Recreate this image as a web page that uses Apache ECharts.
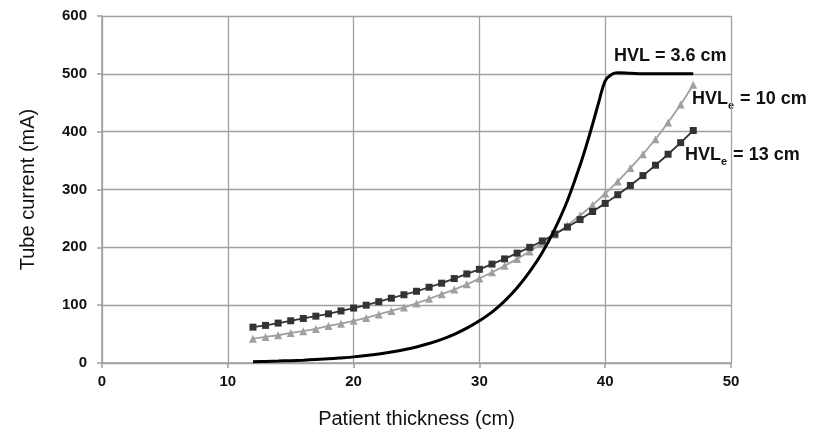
<!DOCTYPE html>
<html>
<head>
<meta charset="utf-8">
<script src="https://cdn.jsdelivr.net/npm/echarts@6/dist/echarts.min.js"></script>
<style>
  html, body { margin: 0; padding: 0; background: #fff; }
  #chart { width: 818px; height: 434px; }
</style>
</head>
<body>
<div id="chart"></div>
<script>
// patient thickness (cm) for the two marker series
var thickness = [12, 13, 14, 15, 16, 17, 18, 19, 20, 21, 22, 23, 24, 25, 26, 27, 28, 29,
  30, 31, 32, 33, 34, 35, 36, 37, 38, 39, 40, 41, 42, 43, 44, 45, 46, 47];

// HVLe = 13 cm (squares)
var hvl13 = [62, 65, 69, 73, 77, 81, 85, 90, 95, 100, 106, 112, 118, 124, 131, 138, 146, 154,
  162, 171, 180, 190, 200, 211, 223, 235, 248, 262, 276, 291, 307, 324, 342, 361, 381, 402];

// HVLe = 10 cm (triangles)
var hvl10 = [42, 45, 48, 52, 55, 59, 64, 68, 73, 78, 84, 90, 96, 103, 111, 119, 127, 136,
  146, 157, 168, 180, 193, 207, 222, 238, 255, 273, 293, 314, 337, 361, 387, 416, 447, 481];

// HVL = 3.6 cm (solid black curve)
var hvl36X = [12, 13, 14, 15, 16, 17, 18, 19, 20, 21, 22, 23, 24, 25, 26, 27, 28, 29,
  30, 31, 32, 33, 34, 35, 36, 37, 38, 38.5, 39, 39.5, 40, 40.5, 41, 42, 43, 45, 47];
var hvl36Y = [2.3, 2.8, 3.4, 4.1, 4.9, 6.0, 7.2, 8.8, 10.6, 12.9, 15.6, 18.9, 23, 27.8, 33.8, 40.9, 49.6, 60.2,
  73, 88, 107, 130, 158, 191, 232, 281, 342, 376, 413, 452, 488, 499, 502, 501, 500, 500, 500];

var xTicks = [0, 10, 20, 30, 40, 50];
var yTicks = [0, 100, 200, 300, 400, 500, 600];

function pairs(xs, ys) {
  return xs.map(function (x, i) { return [x, ys[i]]; });
}

var font = '"Liberation Sans", Arial, sans-serif';
var gridColor = '#a0a0a0';

var chart = echarts.init(document.getElementById('chart'));

var labelRich = {
  b: { fontFamily: font, fontSize: 18, fontWeight: 'bold', fill: '#111', lineHeight: 20 },
  s: { fontFamily: font, fontSize: 11, fontWeight: 'bold', fill: '#111', padding: [12, 1, 0, 0], lineHeight: 20 }
};

var option = {
  animation: false,
  backgroundColor: '#fff',
  grid: { left: 102, right: 87, top: 16, bottom: 68 },
  xAxis: {
    type: 'value',
    min: xTicks[0],
    max: xTicks[xTicks.length - 1],
    interval: 10,
    name: 'Patient thickness (cm)',
    nameLocation: 'middle',
    nameGap: 46,
    nameTextStyle: { fontFamily: font, fontSize: 20, color: '#111' },
    axisLine: { lineStyle: { color: gridColor, width: 1.5 } },
    axisTick: { show: true, length: 5, lineStyle: { color: gridColor, width: 1.5 } },
    axisLabel: { fontFamily: font, fontSize: 15, fontWeight: 'bold', color: '#111', margin: 11 },
    splitLine: { show: true, lineStyle: { color: gridColor, width: 1.3 } }
  },
  yAxis: {
    type: 'value',
    min: yTicks[0],
    max: yTicks[yTicks.length - 1],
    interval: 100,
    name: 'Tube current (mA)',
    nameLocation: 'middle',
    nameGap: 64,
    nameTextStyle: { fontFamily: font, fontSize: 20, color: '#111' },
    axisLine: { show: true, lineStyle: { color: gridColor, width: 1.5 } },
    axisTick: { show: true, length: 5, lineStyle: { color: gridColor, width: 1.5 } },
    axisLabel: { fontFamily: font, fontSize: 15, fontWeight: 'bold', color: '#111', margin: 15 },
    splitLine: { show: true, lineStyle: { color: gridColor, width: 1.3 } }
  },
  series: [
    {
      name: 'HVLe = 10 cm',
      type: 'line',
      data: pairs(thickness, hvl10),
      symbol: 'triangle',
      symbolSize: 8,
      lineStyle: { color: '#a0a0a0', width: 1.8 },
      itemStyle: { color: '#a0a0a0' },
      z: 2
    },
    {
      name: 'HVLe = 13 cm',
      type: 'line',
      data: pairs(thickness, hvl13),
      symbol: 'rect',
      symbolSize: 7,
      lineStyle: { color: '#333', width: 1.8 },
      itemStyle: { color: '#333' },
      z: 3
    },
    {
      name: 'HVL = 3.6 cm',
      type: 'line',
      data: pairs(hvl36X, hvl36Y),
      smooth: 0.4,
      showSymbol: false,
      symbol: 'none',
      lineStyle: { color: '#000', width: 3 },
      z: 4
    }
  ],
  graphic: [
    {
      type: 'text', left: 614, top: 47,
      style: { text: 'HVL = 3.6 cm', font: 'bold 18px ' + font, fill: '#111' }
    },
    {
      type: 'text', left: 692, top: 88,
      style: { text: '{b|HVL}{s|e}{b| = 10 cm}', fill: '#111', rich: labelRich }
    },
    {
      type: 'text', left: 685, top: 144,
      style: { text: '{b|HVL}{s|e}{b| = 13 cm}', fill: '#111', rich: labelRich }
    }
  ]
};

chart.setOption(option);
</script>
</body>
</html>
